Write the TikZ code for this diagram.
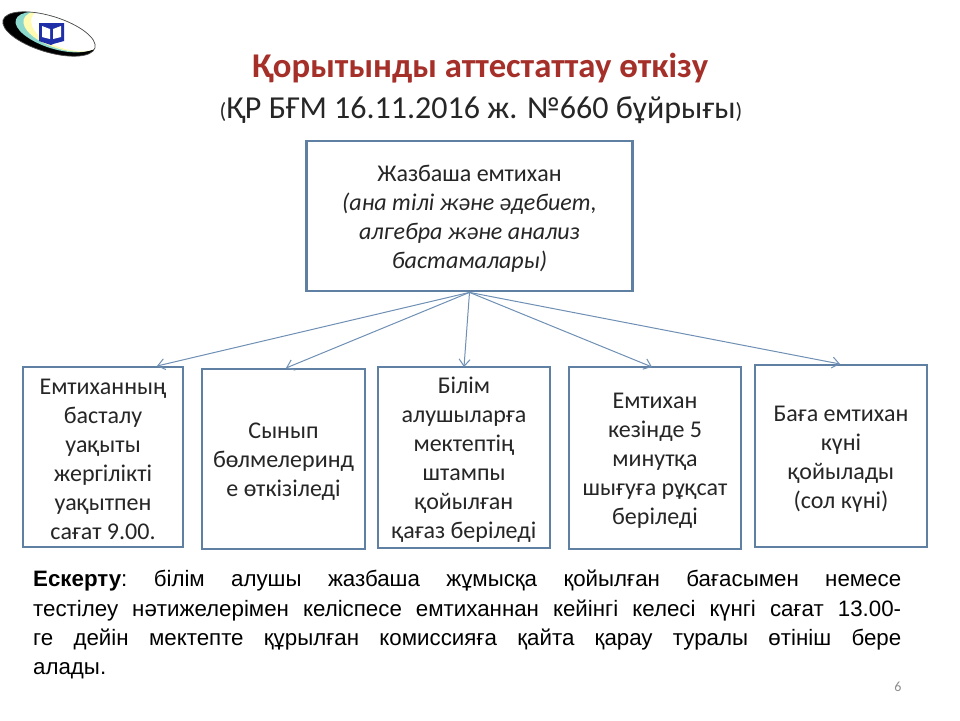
\documentclass[tikz,border=0pt]{standalone}
\usepackage{fontspec}
\setmainfont{Carlito}
\newfontfamily\notefont{Liberation Sans}
\usetikzlibrary{arrows.meta}
\definecolor{boxblue}{HTML}{5F7FA3}
\definecolor{arrowblue}{HTML}{6F90B4}
\definecolor{titlered}{HTML}{A5302A}
\definecolor{logoblue}{HTML}{1F2FA8}
\definecolor{pagenum}{HTML}{8C8C8C}
\newcommand{\fl}{\rule{0pt}{21pt}}
\tikzset{
 bx/.style={draw=boxblue,line width=2.8pt,fill=white,align=center,inner sep=0pt,font=\fontsize{24}{29}\selectfont,text=black!85},
 link/.style={draw=arrowblue,line width=1pt,-{Straight Barb[length=7pt,width=11pt]}},
}
\begin{document}
\begin{tikzpicture}[x=1pt,y=-1pt]
\useasboundingbox[fill=white] (0,0) rectangle (960,720);
% logo
\begin{scope}
 \clip[rotate around={-17:(49,34)}] (49,34) ellipse (48 and 18);
 \fill[black] (-5,-5) rectangle (110,70);
 \fill[cyan!55!green!45!white,rotate around={-17:(56,32)}] (56,32) ellipse (42 and 17);
 \fill[yellow!30!white,rotate around={-17:(62,31)}] (62,31) ellipse (40 and 18);
 \fill[white,rotate around={-17:(68,29)}] (68,29) ellipse (38 and 20);
\end{scope}
\draw[black!70,line width=.7pt,rotate around={-17:(49,34)}] (49,34) ellipse (48 and 18);
\fill[logoblue] (39,23) -- (64,23) -- (64,41) -- (53,44) -- (51,45) -- (39,41) -- cycle;
\fill[white] (42,26) -- (50,29) -- (50,39) -- (42,37) -- cycle;
\fill[white] (61,26) -- (53,29) -- (53,39) -- (61,37) -- cycle;
% title
\node[font=\bfseries\fontsize{34.7}{38}\selectfont,text=titlered] (title) at (480,68) {Қорытынды аттестаттау өткізу};
\node[font=\fontsize{32}{36}\selectfont,text=black!85] (sub) at (481,110) {{\fontsize{22}{24}\selectfont(}ҚР БҒМ 16.11.2016 ж. №660 бұйрығы{\fontsize{22}{24}\selectfont)}};
% boxes
\node[bx,minimum width=326pt,minimum height=150pt] (top) at (469.5,216) {\fl Жазбаша емтихан\\\textit{(ана тілі және әдебиет,}\\\textit{алгебра және анализ}\\\textit{бастамалары)}};
\node[bx,minimum width=160pt,minimum height=180pt] (b1) at (103,457) {\fl Емтиханның\\басталу\\уақыты\\жергілікті\\уақытпен\\сағат 9.00.};
\node[bx,minimum width=163pt,minimum height=180pt] (b2) at (283.5,459) {\fl Сынып\\бөлмелеринд\\е өткізіледі};
\node[bx,minimum width=172pt,minimum height=181pt] (b3) at (464,457.5) {\fl Білім\\алушыларға\\мектептің\\штампы\\қойылған\\қағаз беріледі};
\node[bx,minimum width=172pt,minimum height=182pt] (b4) at (655,458) {\fl Емтихан\\кезінде 5\\минутқа\\шығуға рұқсат\\беріледі};
\node[bx,minimum width=172pt,minimum height=182pt] (b5) at (841,456) {\fl Баға емтихан\\күні\\қойылады\\(сол күні)};
% arrows
\coordinate (e1) at (157,366);
\coordinate (e2) at (286,368);
\coordinate (e3) at (464,367);
\coordinate (e4) at (652,367);
\coordinate (e5) at (840,364);
\foreach \e in {e1,e2,e3,e4,e5} \draw[link] (top.south) -- (\e);
% note
\node[anchor=north west,inner sep=0pt,text width=868pt,align=justify,font=\notefont\frenchspacing\fontsize{22.3}{29.3}\selectfont,text=black] (note) at (33,570)
 {\textbf{Ескерту}: білім алушы жазбаша жұмысқа қойылған бағасымен немесе\linebreak
 тестілеу нәтижелерімен келіспесе емтиханнан кейінгі келесі күнгі сағат 13.00-\linebreak
 ге дейін мектепте құрылған комиссияға қайта қарау туралы өтініш бере\linebreak
 алады.};
\node[font=\fontsize{14}{16}\selectfont,text=pagenum] (pg) at (898,687) {6};
\end{tikzpicture}
\end{document}
